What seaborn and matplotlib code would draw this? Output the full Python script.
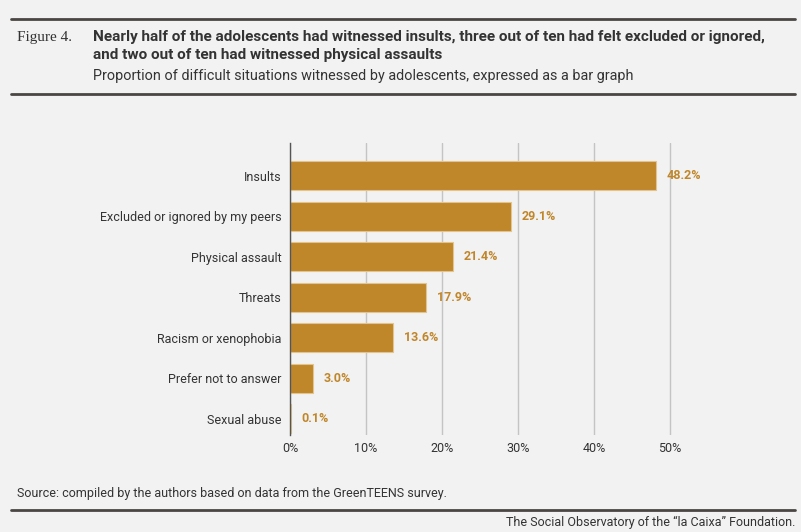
import matplotlib
matplotlib.use('Agg')
import matplotlib.pyplot as plt
import seaborn as sns
import pandas as pd

# datos
categorias = ['Insults', 'Excluded or ignored by my peers', 'Physical assault', 'Threats',
              'Racism or xenophobia', 'Prefer not to answer', 'Sexual abuse']
valores = [48.2, 29.1, 21.4, 17.9, 13.6, 3.0, 0.1]
ticks = [0, 10, 20, 30, 40, 50]
tick_labels = ['0%', '10%', '20%', '30%', '40%', '50%']

titulo = ('Nearly half of the adolescents had witnessed insults, three out of ten had felt excluded or ignored,\n'
          'and two out of ten had witnessed physical assaults')
subtitulo = 'Proportion of difficult situations witnessed by adolescents, expressed as a bar graph'
fuente = 'Source: compiled by the authors based on data from the GreenTEENS survey.'
pie = 'The Social Observatory of the \u201cla Caixa\u201d Foundation.'

fondo = '#f2f2f2'
ocre = '#c0862a'
texto = '#333333'

sns.set_theme(style='white')
plt.rcParams['font.family'] = ['Roboto', 'DejaVu Sans']

df = pd.DataFrame({'categoria': categorias, 'valor': valores})

fig = plt.figure(figsize=(8.01, 5.32), dpi=100, facecolor=fondo)
ax = fig.add_axes([290 / 801, 1 - 435 / 532, (685 - 290) / 801, (435 - 143) / 532])
ax.set_facecolor(fondo)

sns.barplot(data=df, x='valor', y='categoria', color=ocre, saturation=1, width=0.72,
            edgecolor='#e2c48f', linewidth=0.8, ax=ax, zorder=3)

for i, v in enumerate(valores):
    ax.text(v + 1.4, i, f'{v:.1f}%', va='center', ha='left', color=ocre,
            fontsize=9, fontweight='bold')

ax.set_xlim(0, 52)
ax.set_ylim(6.4, -0.81)
ax.set_xticks(ticks)
ax.set_xticklabels(tick_labels, fontsize=9, color=texto)
ax.tick_params(axis='y', labelsize=9, colors=texto, length=0, pad=6)
ax.tick_params(axis='x', length=0, pad=5)
ax.set_xlabel('')
ax.set_ylabel('')
ax.grid(axis='x', color='#c4c4c4', linewidth=1, zorder=0)
for s in ['top', 'right', 'bottom']:
    ax.spines[s].set_visible(False)
ax.spines['left'].set_color('#555555')
ax.spines['left'].set_linewidth(1)
ax.spines['left'].set_zorder(4)

# reglas horizontales
for y, lw in [(19, 2), (94, 2), (510, 2)]:
    fig.add_artist(plt.Line2D([11 / 801, 795 / 801], [1 - y / 532, 1 - y / 532],
                              color='#4a4644', linewidth=lw))

fig.text(17 / 801, 1 - 37 / 532, 'Figure 4.', fontsize=11, color=texto,
         family=['Liberation Serif', 'DejaVu Serif'], va='center')
fig.text(93 / 801, 1 - 46 / 532, titulo, fontsize=11, fontweight='bold', color=texto,
         va='center', linespacing=1.45)
fig.text(93 / 801, 1 - 75.5 / 532, subtitulo, fontsize=10.4, color=texto, va='center')
fig.text(17 / 801, 1 - 494 / 532, fuente, fontsize=9, color=texto, va='center')
fig.text(795 / 801, 1 - 522 / 532, pie, fontsize=9, color=texto, va='center', ha='right')

fig.savefig('out.png', dpi=100, facecolor=fondo)
